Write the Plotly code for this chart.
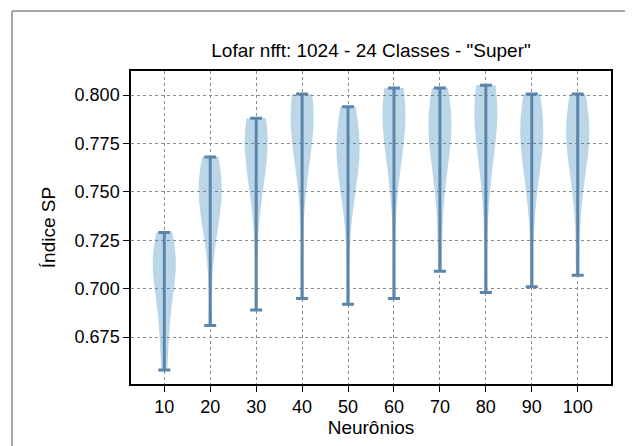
import numpy as np
import plotly.graph_objects as go

# ---- data ----
neurons = [10, 20, 30, 40, 50, 60, 70, 80, 90, 100]
sp_10 = [0.658, 0.676, 0.690, 0.700, 0.706, 0.711, 0.715, 0.719, 0.724, 0.729]
sp_20 = [0.681, 0.722, 0.734, 0.742, 0.747, 0.751, 0.754, 0.758, 0.762, 0.768]
sp_30 = [0.689, 0.742, 0.758, 0.767, 0.773, 0.776, 0.779, 0.782, 0.785, 0.788]
sp_40 = [0.695, 0.753, 0.771, 0.780, 0.786, 0.789, 0.792, 0.795, 0.798, 0.8005]
sp_50 = [0.692, 0.741, 0.756, 0.764, 0.769, 0.772, 0.776, 0.780, 0.786, 0.794]
sp_60 = [0.695, 0.753, 0.771, 0.780, 0.787, 0.790, 0.793, 0.796, 0.800, 0.8036]
sp_70 = [0.709, 0.746, 0.763, 0.773, 0.779, 0.783, 0.787, 0.792, 0.797, 0.8036]
sp_80 = [0.698, 0.750, 0.769, 0.780, 0.787, 0.791, 0.795, 0.798, 0.801, 0.805]
sp_90 = [0.701, 0.746, 0.761, 0.771, 0.777, 0.781, 0.785, 0.789, 0.794, 0.8005]
sp_100 = [0.707, 0.746, 0.761, 0.771, 0.776, 0.780, 0.784, 0.788, 0.794, 0.8005]
samples = [sp_10, sp_20, sp_30, sp_40, sp_50, sp_60, sp_70, sp_80, sp_90, sp_100]
y_ticks = [0.675, 0.700, 0.725, 0.750, 0.775, 0.800]

FILL = "rgba(31,119,180,0.3)"
LINE = "#5b86aa"
FONT = "Liberation Sans, Arial, sans-serif"

fig = go.Figure()
for pos, vals in zip(neurons, samples):
    arr = np.asarray(vals)
    bw = arr.std(ddof=1) * len(arr) ** (-1 / 5)  # Scott's rule
    fig.add_trace(go.Violin(
        x=[pos] * len(arr), y=arr, width=5, bandwidth=bw,
        spanmode="hard", scalemode="width", points=False,
        fillcolor=FILL, line=dict(width=0, color="rgba(0,0,0,0)"),
        box=dict(visible=False), meanline=dict(visible=False),
        showlegend=False, hoverinfo="skip",
    ))

mins = [min(v) for v in samples]
maxs = [max(v) for v in samples]
fig.add_trace(go.Scatter(
    x=neurons, y=mins, mode="markers",
    marker=dict(size=1, opacity=0),
    error_y=dict(type="data", symmetric=False,
                 array=[mx - mn for mx, mn in zip(maxs, mins)],
                 arrayminus=[0] * len(mins),
                 color=LINE, thickness=3, width=6),
    showlegend=False, hoverinfo="skip",
))

# plot area in figure px: left 123, right 603, top 63, bottom 376
PL, PW, PB, PH = 123, 480, 376, 313
fx = lambda px: (px - PL) / PW
fy = lambda py: (PB - py) / PH
fig.add_shape(type="line", xref="paper", yref="paper",
              x0=fx(4), x1=fx(640), y0=fy(3), y1=fy(3),
              line=dict(color="#8a8a8a", width=1.5))
fig.add_shape(type="line", xref="paper", yref="paper",
              x0=fx(4), x1=fx(4), y0=fy(3), y1=fy(450),
              line=dict(color="#8a8a8a", width=1.5))

axis_common = dict(
    showline=True, linecolor="black", linewidth=1.5, mirror=True,
    ticks="outside", ticklen=6, tickwidth=1.2, tickcolor="black",
    showgrid=True, gridcolor="#8c8c8c", gridwidth=1, griddash="dot",
    zeroline=False, automargin=False,
    tickfont=dict(family=FONT, size=18, color="black"),
)
fig.update_layout(
    template="none",
    width=625, height=438,
    margin=dict(l=123, r=22, t=63, b=62, autoexpand=False),
    paper_bgcolor="white", plot_bgcolor="white",
    violinmode="overlay",
    title=dict(text='Lofar nfft: 1024 - 24 Classes - "Super"',
               font=dict(family=FONT, size=19, color="black"),
               x=0.5, xref="paper", xanchor="center",
               y=1, yref="paper", yanchor="bottom", pad=dict(b=14), automargin=False),
    xaxis=dict(range=[2.75, 107.25], tickvals=neurons,
               title=dict(text="Neurônios", standoff=4,
                          font=dict(family=FONT, size=19, color="black")),
               **axis_common),
    yaxis=dict(range=[0.6508, 0.8124], tickvals=y_ticks, tickformat=".3f",
               title=dict(text="Índice SP", standoff=14,
                          font=dict(family=FONT, size=19, color="black")),
               **axis_common),
)
fig.write_html("out.html")
